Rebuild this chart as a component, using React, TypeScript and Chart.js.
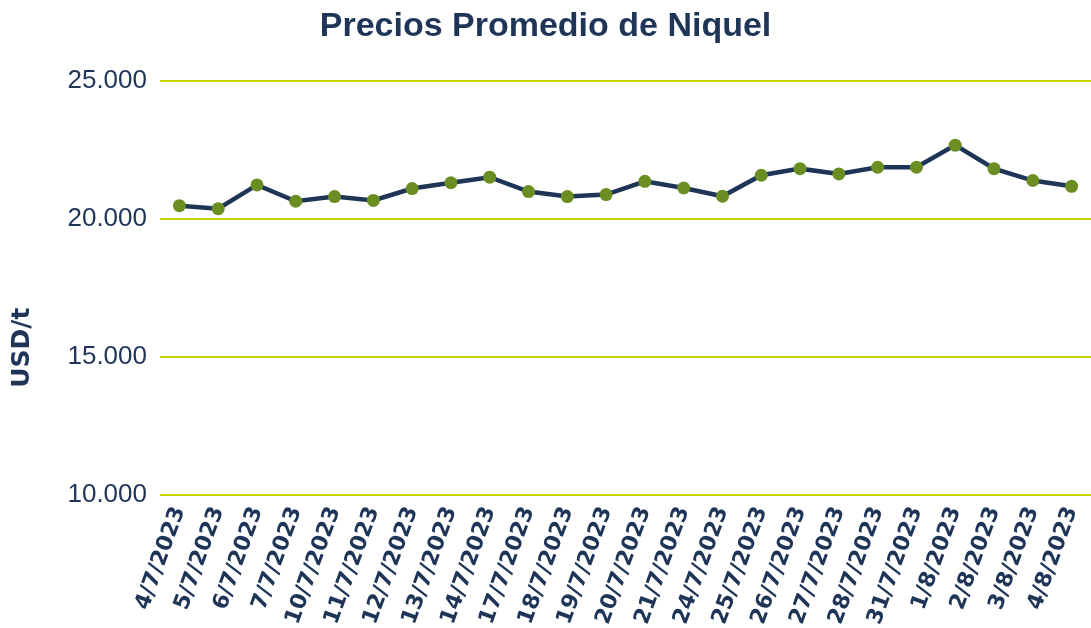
import React, { useEffect, useRef } from "react";
import { Chart, registerables } from "chart.js";

Chart.register(...registerables);

const categories = [
  "4/7/2023", "5/7/2023", "6/7/2023", "7/7/2023", "10/7/2023", "11/7/2023",
  "12/7/2023", "13/7/2023", "14/7/2023", "17/7/2023", "18/7/2023", "19/7/2023",
  "20/7/2023", "21/7/2023", "24/7/2023", "25/7/2023", "26/7/2023", "27/7/2023",
  "28/7/2023", "31/7/2023", "1/8/2023", "2/8/2023", "3/8/2023", "4/8/2023",
];

const prices = [
  20480, 20370, 21230, 20640, 20810, 20670,
  21100, 21310, 21510, 20990, 20810, 20880,
  21360, 21120, 20820, 21580, 21820, 21630,
  21870, 21870, 22670, 21820, 21390, 21180,
];

const yMin = 10000;
const yMax = 25000;
const yStep = 5000;
const yTitle = "USD/t";
const chartTitle = "Precios Promedio de Niquel";

const NAVY = "#1f3558";
const GREEN = "#6b8e23";
const GRID = "#c8d400";

const yTitlePlugin = {
  id: "yTitlePlugin",
  afterDraw(chart: any) {
    const { ctx, chartArea } = chart;
    const cy = chartArea.top + (chartArea.bottom - chartArea.top) * 0.644;
    ctx.save();
    ctx.translate(22, cy);
    ctx.rotate(-Math.PI / 2);
    ctx.fillStyle = NAVY;
    ctx.font = "bold 25px 'DejaVu Sans', sans-serif";
    ctx.textAlign = "center";
    ctx.textBaseline = "middle";
    ctx.fillText(yTitle, 0, 0);
    ctx.restore();
  },
};

export default function App() {
  const ref = useRef<HTMLCanvasElement | null>(null);

  useEffect(() => {
    document.body.style.margin = "0";
    const canvas = ref.current;
    if (!canvas) return;
    const chart = new Chart(canvas, {
      type: "line",
      data: {
        labels: categories,
        datasets: [
          {
            label: "Niquel",
            data: prices,
            borderColor: NAVY,
            borderWidth: 4.5,
            backgroundColor: GREEN,
            pointBackgroundColor: GREEN,
            pointBorderColor: GREEN,
            pointRadius: 6.5,
            pointBorderWidth: 0,
            tension: 0,
          },
        ],
      },
      plugins: [yTitlePlugin],
      options: {
        animation: false,
        responsive: false,
        maintainAspectRatio: false,
        layout: { autoPadding: false, padding: { left: 0, right: 0, top: 0, bottom: 0 } },
        plugins: {
          legend: { display: false },
          tooltip: { enabled: false },
          title: {
            display: true,
            text: chartTitle,
            color: NAVY,
            font: { family: "'Liberation Sans', Arial, sans-serif", size: 34, weight: "bold" },
            padding: { top: 6, bottom: 34 },
          },
        },
        scales: {
          x: {
            offset: true,
            grid: { display: false },
            border: { display: false },
            afterFit: (scale: any) => {
              scale.paddingRight = 0;
              scale.paddingLeft = 0;
            },
            ticks: {
              color: NAVY,
              font: { family: "'DejaVu Sans', sans-serif", size: 22, weight: "bold" },
              minRotation: 70,
              maxRotation: 70,
              autoSkip: false,
              padding: 0,
            },
          },
          y: {
            min: yMin,
            max: yMax,
            afterFit: (scale: any) => {
              scale.width = 160;
            },
            grid: { color: GRID, lineWidth: 2, tickLength: 0, drawTicks: false },
            border: { display: false },
            ticks: {
              stepSize: yStep,
              color: NAVY,
              padding: 13,
              font: { family: "'Liberation Sans', Arial, sans-serif", size: 26 },
              callback: (v: any) => Number(v).toLocaleString("de-DE"),
            },
          },
        },
      },
    });
    return () => chart.destroy();
  }, []);

  return (
    <div style={{ width: 1091, height: 628, background: "#fff" }}>
      <canvas ref={ref} width={1091} height={628} style={{ display: "block" }} />
    </div>
  );
}
